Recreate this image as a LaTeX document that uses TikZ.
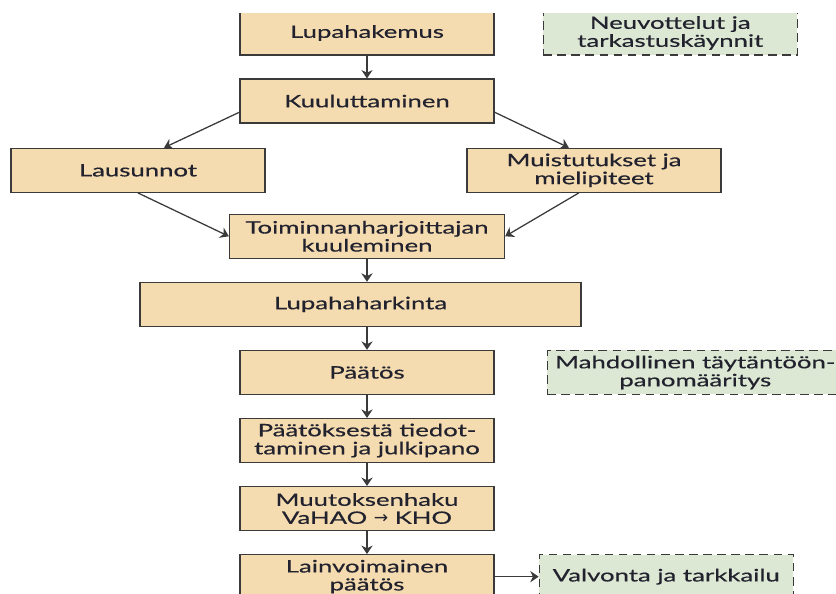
\documentclass[tikz,border=0pt]{standalone}
\usepackage{fontspec}
\setmainfont{Lato}[FakeStretch=1.5, FakeBold=0.5]
\newfontfamily\arrowfont{DejaVu Sans}
\usetikzlibrary{arrows.meta, positioning}
\definecolor{boxfill}{HTML}{F5DCB0}
\definecolor{notefill}{HTML}{DCE8D3}
\definecolor{edge}{HTML}{3A3A3A}
\definecolor{txt}{HTML}{22222E}

\begin{document}
\begin{tikzpicture}[
  node distance=5.7mm,
  box/.style={draw=edge, line width=0.9pt, fill=boxfill, text=txt, align=center, font=\fontsize{12.2}{12.8}\selectfont, minimum width=6.35cm, minimum height=1.1cm, inner sep=2pt},
  note/.style={box, fill=notefill, dash pattern=on 6pt off 4pt},
  arrow/.style={-{Stealth[length=6pt, width=8pt]}, line width=0.9pt, draw=edge}
]
\useasboundingbox (0,0) rectangle (20.9,-14.85);
\clip (0,-0.33) rectangle (20.9,-14.85);

\node[box] (hakemus) at (9.175,-0.825) {Lupahakemus};
\node[note, right=12mm of hakemus] (neuvottelut) {Neuvottelut ja\\tarkastuskäynnit};
\node[box, below=of hakemus] (kuulutus) {Kuuluttaminen};
\node[box, below=6mm of kuulutus, xshift=-5.725cm] (lausunnot) {Lausunnot};
\node[box, below=6mm of kuulutus, xshift=5.675cm] (muistutukset) {Muistutukset ja\\mielipiteet};
\node[box, below=2.25cm of kuulutus, minimum width=6.875cm] (kuuleminen) {Toiminnanharjoittajan\\kuuleminen};
\node[box, below=of kuuleminen, xshift=-0.16cm, minimum width=11.025cm] (harkinta) {Lupahaharkinta};
\node[box, below=of harkinta, xshift=0.16cm] (paatos) {Päätös};
\node[note, right=13mm of paatos, minimum width=7.4cm] (taytanto) {Mahdollinen täytäntöön-\\panomääritys};
\node[box, below=of paatos] (tiedotus) {Päätöksestä tiedot-\\taminen ja julkipano};
\node[box, below=of tiedotus] (muutos) {Muutoksenhaku\\VaHAO {\arrowfont →} KHO};
\node[box, below=of muutos] (lainvoima) {Lainvoimainen\\päätös};
\node[note, right=11mm of lainvoima] (valvonta) {Valvonta ja tarkkailu};

\draw[arrow] (hakemus) -- (kuulutus);
\draw[arrow] (kuulutus.185) -- (lausunnot.41);
\draw[arrow] (kuulutus.-5) -- (muistutukset.138);
\draw[arrow] (lausunnot.south) -- (kuuleminen.west);
\draw[arrow] (muistutukset.236) -- (kuuleminen.east);
\draw[arrow] (kuuleminen.south) -- (kuuleminen.south |- harkinta.north);
\draw[arrow] (paatos.north |- harkinta.south) -- (paatos.north);
\draw[arrow] (paatos) -- (tiedotus);
\draw[arrow] (tiedotus) -- (muutos);
\draw[arrow] (muutos) -- (lainvoima);
\draw[arrow] (lainvoima) -- (valvonta);

\end{tikzpicture}
\end{document}
